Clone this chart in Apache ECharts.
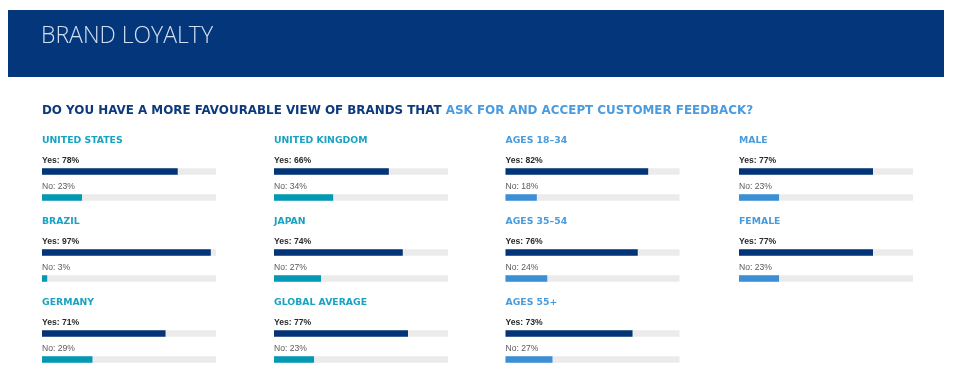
<!DOCTYPE html>
<html><head><meta charset="utf-8">
<script src="https://cdn.jsdelivr.net/npm/echarts@6/dist/echarts.min.js"></script>
<style>html,body{margin:0;padding:0;background:#fff}#c{width:958px;height:387px}</style>
</head><body><div id="c"></div>
<script>
// ---- data ----
const panelNames = ['UNITED STATES','BRAZIL','GERMANY','UNITED KINGDOM','JAPAN','GLOBAL AVERAGE','AGES 18–34','AGES 35–54','AGES 55+','MALE','FEMALE'];
const yesValues  = [78, 97, 71, 66, 74, 77, 82, 76, 73, 77, 77];
const noValues   = [23, 3, 29, 34, 27, 23, 18, 24, 27, 23, 23];
const panelGroup = ['country','country','country','country','country','country','demo','demo','demo','demo','demo'];
const answerLabels = ['Yes', 'No'];
const mainTitle = 'BRAND LOYALTY';
const questionDark = 'DO YOU HAVE A MORE FAVOURABLE VIEW OF BRANDS THAT ';
const questionLight = 'ASK FOR AND ACCEPT CUSTOMER FEEDBACK?';

// ---- layout (positions only) ----
const colLeft = [42, 274, 505.5, 739];
const rowYesCenter = [171.5, 252.5, 333.5];
const panelCol = [0,0,0,1,1,1,2,2,2,3,3];
const panelRow = [0,1,2,0,1,2,0,1,2,0,1];

const C = {
  navy: '#023477', teal: '#0398b3', lblue: '#3b8fd5',
  tealTitle: '#17a3c1', blueTitle: '#4a9bdc', track: '#ebebeb'
};

const grids = [], xAxes = [], yAxes = [], series = [], titles = [];
titles.push({
  text: mainTitle, left: 41, top: 25, padding: 0,
  textStyle: {color: '#d3e0f1', fontSize: 23, fontWeight: 300, fontFamily: 'Open Sans'}
});
titles.push({
  text: '{a|' + questionDark + '}{b|' + questionLight + '}', left: 42, top: 104.5, padding: 0,
  textStyle: {rich: {
    a: {color: '#0d3a7c', fontSize: 11.9, fontWeight: 'bold', fontFamily: 'DejaVu Sans'},
    b: {color: '#4a9be0', fontSize: 11.9, fontWeight: 'bold', fontFamily: 'DejaVu Sans'}
  }}
});

panelNames.forEach((name, i) => {
  const left = colLeft[panelCol[i]];
  const yc = rowYesCenter[panelRow[i]];
  const isCountry = panelGroup[i] === 'country';
  titles.push({
    text: name, left: left, top: yc - 35, padding: 0,
    textStyle: {color: isCountry ? C.tealTitle : C.blueTitle, fontSize: 9.3, fontWeight: 'bold', fontFamily: 'DejaVu Sans'}
  });
  grids.push({left: left, top: yc - 13, width: 174, height: 52});
  xAxes.push({type: 'value', gridIndex: i, min: 0, max: 100, show: false});
  yAxes.push({type: 'category', gridIndex: i, data: answerLabels, inverse: true, show: false});
  series.push({
    type: 'bar', xAxisIndex: i, yAxisIndex: i, barWidth: 6.5,
    silent: true, animation: false,
    showBackground: true,
    backgroundStyle: {color: C.track},
    data: [
      {value: yesValues[i], itemStyle: {color: C.navy},
       label: {formatter: answerLabels[0] + ': {c}%', fontWeight: 'bold', color: '#2a2a2a'}},
      {value: noValues[i], itemStyle: {color: isCountry ? C.teal : C.lblue},
       label: {formatter: answerLabels[1] + ': {c}%', fontWeight: 'normal', color: '#5a5a5a'}}
    ],
    label: {show: true, position: [0, -8], align: 'left', verticalAlign: 'middle',
      fontSize: 8.6, fontFamily: 'Liberation Sans'}
  });
});

const chart = echarts.init(document.getElementById('c'), null, {renderer: 'canvas'});
chart.setOption({
  animation: false,
  graphic: [{type: 'rect', shape: {x: 8, y: 10, width: 936, height: 67}, style: {fill: '#03367a'}, z: -1}],
  title: titles, grid: grids, xAxis: xAxes, yAxis: yAxes, series: series
});
</script></body></html>
